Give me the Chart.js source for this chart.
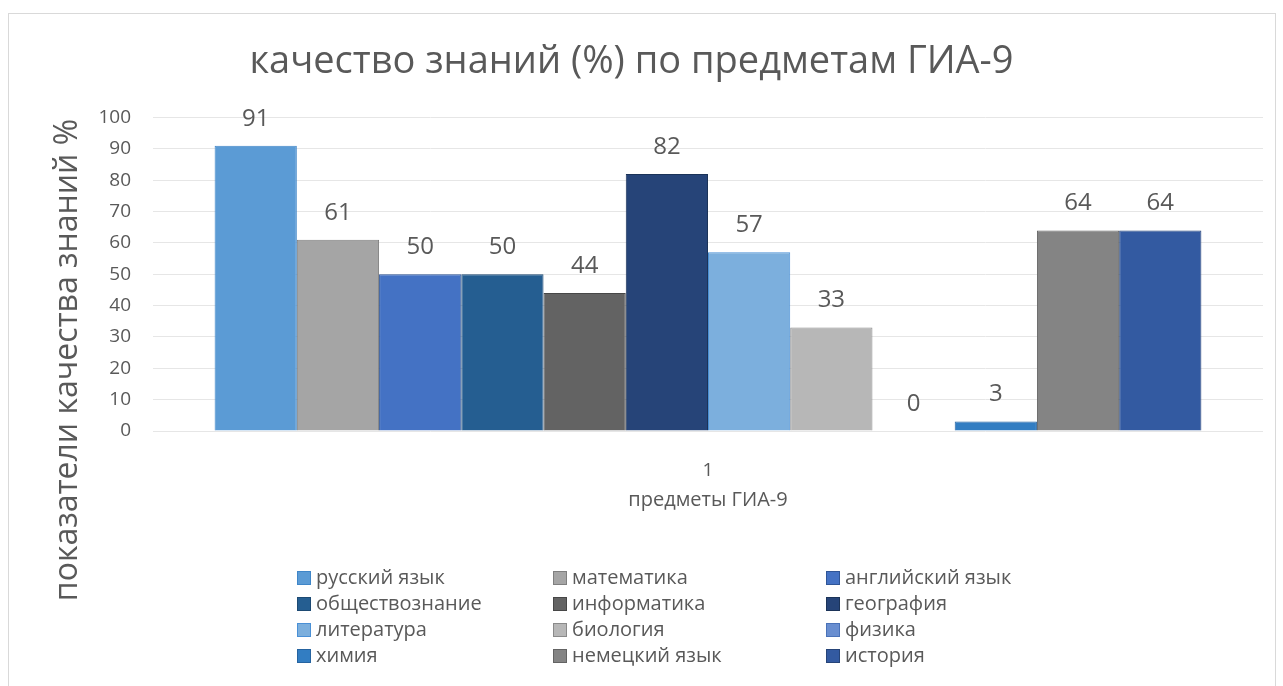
<!DOCTYPE html>
<html>
<head>
<meta charset="utf-8">
<script src="https://cdn.jsdelivr.net/npm/chart.js@4/dist/chart.umd.min.js"></script>
<style>
  body { margin: 0; background: #fff; }
  #frame { position: absolute; left: 8px; top: 13px; width: 1266px; height: 690px; border: 1px solid #d9d9d9; }
  #wrap { position: absolute; left: 0; top: 0; width: 1283px; height: 686px; }
</style>
</head>
<body>
<div id="frame"></div>
<div id="wrap"><canvas id="chart"></canvas></div>
<script>
// data
const categories = ['1'];
const subjects = ['русский язык', 'математика', 'английский язык', 'обществознание', 'информатика', 'география',
                  'литература', 'биология', 'физика', 'химия', 'немецкий язык', 'история'];
const values = [91, 61, 50, 50, 44, 82, 57, 33, 0, 3, 64, 64];
const yTicks = [0, 10, 20, 30, 40, 50, 60, 70, 80, 90, 100];

const fills   = ['#5b9bd5', '#a5a5a5', '#4472c4', '#255e91', '#636363', '#264478',
                 '#7cafdd', '#b7b7b7', '#698ed0', '#327dc2', '#848484', '#335aa1'];
const borders = ['#3f86c8', '#7f7f7f', '#2f5597', '#1d4a73', '#474747', '#1b3358',
                 '#4a90d6', '#8a8a8a', '#4a72b8', '#2563a0', '#636363', '#264478'];

const FONT = "'Open Sans', 'Noto Sans', sans-serif";
const GREY = '#595959';

// value labels above bars
const valueLabels = {
  id: 'valueLabels',
  afterDatasetsDraw(chart) {
    const ctx = chart.ctx;
    ctx.save();
    ctx.font = '24px ' + FONT;
    ctx.fillStyle = GREY;
    ctx.textAlign = 'center';
    ctx.textBaseline = 'middle';
    chart.data.datasets.forEach((ds, i) => {
      chart.getDatasetMeta(i).data.forEach((bar, j) => {
        ctx.fillText(String(ds.data[j]), bar.x, bar.y - 27);
      });
    });
    ctx.restore();
  }
};

// rotated y title, centred on the whole chart like excel does
const yTitle = {
  id: 'yTitle',
  afterDraw(chart) {
    const ctx = chart.ctx;
    ctx.save();
    ctx.translate(68, 360);
    ctx.rotate(-Math.PI / 2);
    ctx.font = '32px ' + FONT;
    ctx.fillStyle = GREY;
    ctx.textAlign = 'center';
    ctx.textBaseline = 'middle';
    ctx.fillText('показатели качества знаний %', 0, 0);
    ctx.restore();
  }
};

// 3-column legend
const gridLegend = {
  id: 'gridLegend',
  afterDraw(chart) {
    const ctx = chart.ctx;
    const cols = [297, 553, 826];
    ctx.save();
    ctx.font = '20px ' + FONT;
    ctx.textBaseline = 'middle';
    chart.data.datasets.forEach((ds, i) => {
      const x = cols[i % 3];
      const y = 578 + Math.floor(i / 3) * 26;
      ctx.fillStyle = ds.backgroundColor;
      ctx.strokeStyle = ds.borderColor;
      ctx.lineWidth = 1;
      ctx.fillRect(x, y - 7, 14, 14);
      ctx.strokeRect(x + 0.5, y - 6.5, 13, 13);
      ctx.fillStyle = GREY;
      ctx.fillText(ds.label, x + 19, y);
    });
    ctx.restore();
  }
};

new Chart(document.getElementById('chart'), {
  type: 'bar',
  data: {
    labels: categories,
    datasets: subjects.map((s, i) => ({
      label: s,
      data: [values[i]],
      backgroundColor: fills[i],
      borderColor: borders[i],
      borderWidth: 1,
      categoryPercentage: 0.889,
      barPercentage: 1
    }))
  },
  options: {
    responsive: true,
    maintainAspectRatio: false,
    animation: false,
    layout: { padding: { top: 0, left: 0, right: 20, bottom: 155 } },
    plugins: {
      legend: { display: false },
      tooltip: { enabled: false },
      title: {
        display: true,
        text: 'качество знаний (%) по предметам ГИА-9',
        color: GREY,
        font: { family: FONT, size: 38, weight: 'normal' },
        padding: { top: 39, bottom: 33 }
      }
    },
    scales: {
      x: {
        grid: { display: false },
        border: { display: false },
        ticks: { color: GREY, font: { family: FONT, size: 19 }, padding: 20 },
        title: {
          display: true,
          text: 'предметы ГИА-9',
          color: GREY,
          font: { family: FONT, size: 20 },
          padding: { top: 0, bottom: 19 }
        },
        afterFit: s => { s.height = 100; }
      },
      y: {
        min: yTicks[0],
        max: yTicks[yTicks.length - 1],
        grid: { color: '#e6e6e6', drawTicks: false },
        border: { display: false },
        ticks: {
          stepSize: yTicks[1] - yTicks[0],
          color: GREY,
          font: { family: FONT, size: 19 },
          padding: 22
        },
        afterFit: s => { s.width = 153; }
      }
    }
  },
  plugins: [valueLabels, yTitle, gridLegend]
});
</script>
</body>
</html>
